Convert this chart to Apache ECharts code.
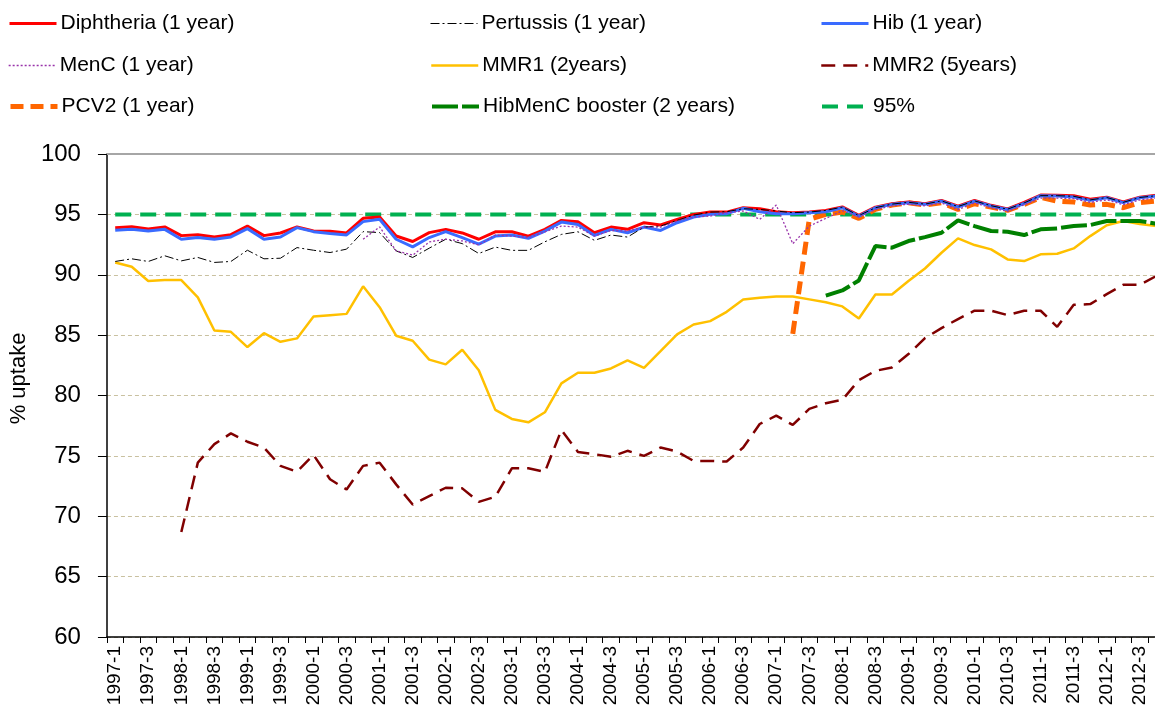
<!DOCTYPE html>
<html>
<head>
<meta charset="utf-8">
<script src="https://cdn.jsdelivr.net/npm/echarts@6/dist/echarts.min.js"></script>
<style>
html,body{margin:0;padding:0;overflow:hidden;background:#fff;}
#chart{width:1170px;height:720px;}
</style>
</head>
<body>
<div id="chart"></div>
<script>
const categories = [
'1997-1','1997-2','1997-3','1997-4','1998-1','1998-2','1998-3','1998-4',
'1999-1','1999-2','1999-3','1999-4','2000-1','2000-2','2000-3','2000-4',
'2001-1','2001-2','2001-3','2001-4','2002-1','2002-2','2002-3','2002-4',
'2003-1','2003-2','2003-3','2003-4','2004-1','2004-2','2004-3','2004-4',
'2005-1','2005-2','2005-3','2005-4','2006-1','2006-2','2006-3','2006-4',
'2007-1','2007-2','2007-3','2007-4','2008-1','2008-2','2008-3','2008-4',
'2009-1','2009-2','2009-3','2009-4','2010-1','2010-2','2010-3','2010-4',
'2011-1','2011-2','2011-3','2011-4','2012-1','2012-2','2012-3','2012-4'];

const yTicks = [60, 65, 70, 75, 80, 85, 90, 95, 100];

const diphtheria = [93.90,93.98,93.79,93.96,93.24,93.32,93.13,93.32,94.04,93.24,93.46,93.96,93.63,93.60,93.46,94.67,94.78,93.21,92.75,93.49,93.76,93.46,92.94,
93.56,93.56,93.20,93.76,94.50,94.39,93.48,93.95,93.76,94.31,94.12,94.59,95.00,95.19,95.19,95.55,95.47,95.22,95.14,95.19,95.33,
95.62,94.92,95.60,95.88,96.02,95.88,96.15,95.68,96.15,95.75,95.45,96.00,96.60,96.58,96.55,96.25,96.42,96.02,96.42,96.58];

const pertussis = [91.10,91.32,91.10,91.57,91.15,91.43,91.02,91.10,92.03,91.32,91.37,92.25,92.03,91.84,92.12,93.57,93.49,91.98,91.43,92.20,92.94,92.58,91.76,
92.29,92.02,92.02,92.73,93.34,93.56,92.85,93.29,93.12,93.95,94.03,94.50,94.94,95.19,95.22,95.47,95.41,95.28,95.14,95.19,95.33,
95.60,94.90,95.55,95.85,96.00,95.85,96.12,95.65,96.12,95.72,95.43,95.95,96.55,96.55,96.50,96.20,96.40,96.00,96.40,96.55];

const hib = [93.68,93.76,93.63,93.76,92.94,93.08,92.94,93.13,93.82,92.94,93.13,93.90,93.57,93.41,93.30,94.40,94.59,92.94,92.31,93.08,93.57,93.08,92.53,
93.20,93.29,93.01,93.62,94.36,94.17,93.26,93.76,93.48,93.95,93.67,94.31,94.78,95.00,95.06,95.50,95.22,95.06,95.06,95.14,95.22,
95.55,94.86,95.55,95.83,95.97,95.83,96.10,95.61,96.10,95.69,95.41,95.90,96.55,96.52,96.44,96.16,96.38,95.97,96.38,96.52];

const menC = [null,null,null,null,null,null,null,null,null,null,null,null,null,null,null,
92.94,93.96,91.98,91.62,92.72,92.94,92.80,92.47,
93.29,93.20,93.07,93.56,94.03,93.95,93.20,93.67,93.62,93.95,93.95,94.45,94.78,94.86,95.14,95.28,94.59,95.77,92.57,94.03,94.67,
95.30,94.80,95.40,95.70,95.85,95.70,95.95,95.40,95.95,95.55,95.25,95.80,96.35,96.35,96.30,96.00,96.20,95.80,96.20,96.35];

const mmr1 = [91.02,90.66,89.48,89.56,89.56,88.13,85.38,85.27,84.01,85.16,84.45,84.73,86.54,86.65,86.76,89.04,87.31,84.95,84.53,82.97,82.58,83.79,82.09,
78.81,78.06,77.78,78.61,81.00,81.88,81.88,82.24,82.90,82.29,83.67,85.06,85.88,86.16,86.93,87.96,88.09,88.20,88.20,87.96,87.72,
87.38,86.38,88.37,88.37,89.48,90.52,91.82,93.01,92.46,92.10,91.27,91.13,91.69,91.74,92.18,93.20,94.10,94.45,94.20,94.03];

const mmr2 = [null,null,null,null,
68.69,74.44,75.97,76.86,76.17,75.69,74.17,73.69,75.08,73.06,72.22,74.17,74.44,72.64,70.97,71.67,72.36,72.31,71.19,
71.61,73.97,73.97,73.67,77.14,75.33,75.14,74.92,75.42,75.00,75.69,75.36,74.58,74.58,74.53,75.69,77.64,78.33,77.56,78.89,79.36,79.64,81.27,
82.04,82.32,83.43,84.75,85.58,86.33,87.02,87.02,86.66,87.02,87.02,85.69,87.51,87.57,88.40,89.17,89.17,89.90];

const pcv2 = [null,null,null,null,null,null,null,null,null,null,null,null,null,null,null,null,
null,null,null,null,null,null,null,null,null,null,null,null,null,null,null,null,
null,null,null,null,null,null,null,null,null,
85.11,94.60,95.00,95.19,94.67,95.41,95.77,95.97,95.77,95.97,95.41,95.88,95.61,95.33,95.83,96.40,96.10,96.02,95.77,95.83,95.55,95.97,96.10];

const hibMenC = [null,null,null,null,null,null,null,null,null,null,null,null,null,null,null,null,
null,null,null,null,null,null,null,null,null,null,null,null,null,null,null,null,
null,null,null,null,null,null,null,null,null,null,null,
88.27,88.70,89.53,92.38,92.24,92.79,93.12,93.48,94.50,94.03,93.62,93.56,93.29,93.76,93.84,94.03,94.12,94.45,94.45,94.45,94.23];

const target95 = [95,95,95,95,95,95,95,95,95,95,95,95,95,95,95,95,95,95,95,95,95,95,95,95,95,95,95,95,95,95,95,95,
95,95,95,95,95,95,95,95,95,95,95,95,95,95,95,95,95,95,95,95,95,95,95,95,95,95,95,95,95,95,95,95];

const seriesNames = ['Diphtheria (1 year)','Pertussis (1 year)','Hib (1 year)','MenC (1 year)','MMR1 (2years)','MMR2 (5years)','PCV2 (1 year)','HibMenC booster (2 years)','95%'];

const FONT = 'Liberation Sans';

const styles = {};
styles[seriesNames[0]] = {color: '#ff0000', width: 3, type: 'solid', z: 6};
styles[seriesNames[1]] = {color: '#000000', width: 1, type: [9, 3, 2, 3], z: 8};
styles[seriesNames[2]] = {color: '#3a6bff', width: 3, type: 'solid', z: 7};
styles[seriesNames[3]] = {color: '#9933aa', width: 1.3, type: [2, 2], z: 9};
styles[seriesNames[4]] = {color: '#ffc000', width: 2.5, type: 'solid', z: 3};
styles[seriesNames[5]] = {color: '#800000', width: 2.5, type: [14, 8], z: 3};
styles[seriesNames[6]] = {color: '#ff6600', width: 5, type: [13, 7], z: 5};
styles[seriesNames[7]] = {color: '#008000', width: 4, type: [26, 4], z: 4};
styles[seriesNames[8]] = {color: '#00b050', width: 4, type: [16, 9], z: 2};

const seriesData = {};
seriesData[seriesNames[0]] = diphtheria;
seriesData[seriesNames[1]] = pertussis;
seriesData[seriesNames[2]] = hib;
seriesData[seriesNames[3]] = menC;
seriesData[seriesNames[4]] = mmr1;
seriesData[seriesNames[5]] = mmr2;
seriesData[seriesNames[6]] = pcv2;
seriesData[seriesNames[7]] = hibMenC;
seriesData[seriesNames[8]] = target95;

const drawOrder = [8, 4, 5, 7, 6, 0, 2, 1, 3];
const series = drawOrder.map(k => {
  const nm = seriesNames[k], s = styles[nm];
  return {
    name: nm, type: 'line', data: seriesData[nm], symbol: 'none', connectNulls: false,
    lineStyle: {color: s.color, width: s.width, type: s.type, cap: 'butt'},
    itemStyle: {color: s.color}, z: s.z, animation: false
  };
});

const legendOrder = [
  [seriesNames[0], seriesNames[1], seriesNames[2]],
  [seriesNames[3], seriesNames[4], seriesNames[5]],
  [seriesNames[6], seriesNames[7], seriesNames[8]]
];
const colX = [8, 430, 820];
const rowY = [13, 55, 96];
const legends = [];
legendOrder.forEach((row, r) => row.forEach((nm, c) => {
  const s = styles[nm];
  legends.push({
    data: [nm], left: colX[c], top: rowY[r], orient: 'horizontal',
    itemWidth: 47, itemHeight: 16, padding: 0,
    itemStyle: {opacity: 0},
    lineStyle: {width: s.width, type: s.type, color: s.color, cap: 'butt'},
    textStyle: {fontFamily: FONT, fontSize: 21, color: '#000', padding: [0,0,0,-1]},
    selectedMode: false
  });
}));

const chart = echarts.init(document.getElementById('chart'), null, {renderer: 'canvas'});
chart.setOption({
  backgroundColor: '#ffffff',
  animation: false,
  legend: legends,
  grid: {left: 106, right: 5.4, top: 154, bottom: 83, containLabel: false},
  xAxis: [{
    type: 'category', data: categories, boundaryGap: true,
    axisLine: {lineStyle: {color: '#000', width: 1.5}},
    axisTick: {show: true, interval: 0, length: 6, lineStyle: {color: '#000'}},
    axisLabel: {interval: 1, rotate: 90, fontFamily: FONT, fontSize: 19, color: '#000', margin: 9},
    splitLine: {show: false}
  }, {
    type: 'category', data: categories, position: 'top', boundaryGap: true,
    axisLine: {show: true, lineStyle: {color: '#a6a6a6', width: 2}},
    axisTick: {show: false}, axisLabel: {show: false}, splitLine: {show: false}
  }],
  yAxis: {
    type: 'value', min: yTicks[0], max: yTicks[yTicks.length - 1], interval: 5,
    name: '% uptake', nameLocation: 'middle', nameRotate: 90, nameGap: 70,
    nameTextStyle: {fontFamily: FONT, fontSize: 22, color: '#000', padding: [0, 0, 0, 34]},
    axisLine: {show: true, lineStyle: {color: '#000', width: 1.5}},
    axisTick: {show: true, inside: false, length: 9, lineStyle: {color: '#000'}},
    axisLabel: {fontFamily: FONT, fontSize: 24, color: '#000', margin: 26},
    splitLine: {show: true, lineStyle: {color: '#c9c1a0', type: [4, 3], width: 1}}
  },
  series: series
});
</script>
</body>
</html>
